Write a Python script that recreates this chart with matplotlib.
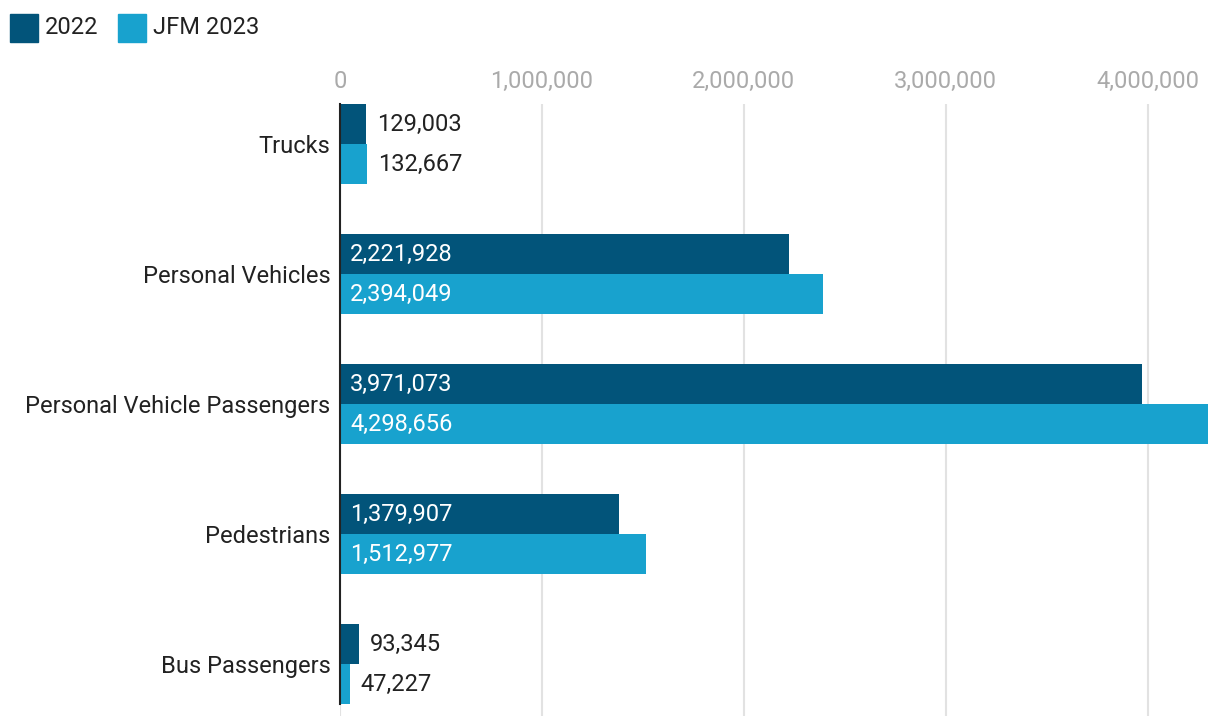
import numpy as np
import matplotlib.pyplot as plt

plt.rcParams['font.family'] = ['Roboto', 'DejaVu Sans']

categories = ['Trucks', 'Personal Vehicles', 'Personal Vehicle Passengers',
              'Pedestrians', 'Bus Passengers']
vals_2022 = [129003, 2221928, 3971073, 1379907, 93345]
vals_2023 = [132667, 2394049, 4298656, 1512977, 47227]
series_names = ['2022', 'JFM 2023']
colors = ['#02547a', '#18a2ce']
xticks = [0, 1000000, 2000000, 3000000, 4000000]

W, H = 1220, 716
fs = 17
fig = plt.figure(figsize=(W / 100, H / 100), dpi=100)
# axes spans x 340..1208 px, y 104..716 px
ax = fig.add_axes([340 / W, 0, (1208 - 340) / W, (716 - 104) / H])

bh = 40 / 130
y = np.arange(len(categories))
ax.barh(y - bh / 2, vals_2022, height=bh, color=colors[0], zorder=2)
ax.barh(y + bh / 2, vals_2023, height=bh, color=colors[1], zorder=2)

ax.set_xlim(0, max(vals_2023))
ax.set_ylim((716 - 144) / 130, -40 / 130)

ax.set_yticks(y)
ax.set_yticklabels(categories, fontsize=fs, color='#222222')
ax.tick_params(axis='y', length=0, pad=7)

ax.xaxis.tick_top()
ax.set_xticks(xticks)
ax.set_xticklabels([f'{v:,}' for v in xticks], fontsize=fs, color='#aaaaaa')
ax.tick_params(axis='x', length=0, pad=8)
ax.grid(axis='x', color='#e2e2e2', linewidth=1.5, zorder=0)

for s in ['top', 'right', 'bottom']:
    ax.spines[s].set_visible(False)
ax.spines['left'].set_color('#222222')
ax.spines['left'].set_linewidth(1.5)
ax.spines['left'].set_zorder(3)
ax.spines['left'].set_bounds((704 - 144) / 130, -40 / 130)

# value labels
px = max(vals_2023) / (1208 - 340)
for vals, off in [(vals_2022, -bh / 2), (vals_2023, bh / 2)]:
    for i, v in enumerate(vals):
        if v > 500000:
            ax.text(10 * px, i + off, f'{v:,}', va='center', ha='left',
                    fontsize=fs, color='white', zorder=4)
        else:
            ax.text(v + 11 * px, i + off, f'{v:,}', va='center', ha='left',
                    fontsize=fs, color='#222222', zorder=4)

# legend
for k, (name, c) in enumerate(zip(series_names, colors)):
    x0 = [10, 118][k]
    fig.patches.append(plt.Rectangle((x0 / W, 1 - 42 / H), 28 / W, 28 / H,
                                     transform=fig.transFigure, color=c))
    fig.text((x0 + 35) / W, 1 - 27 / H, name, fontsize=fs, color='#222222',
             va='center', ha='left')

fig.savefig('out.png', dpi=100)
